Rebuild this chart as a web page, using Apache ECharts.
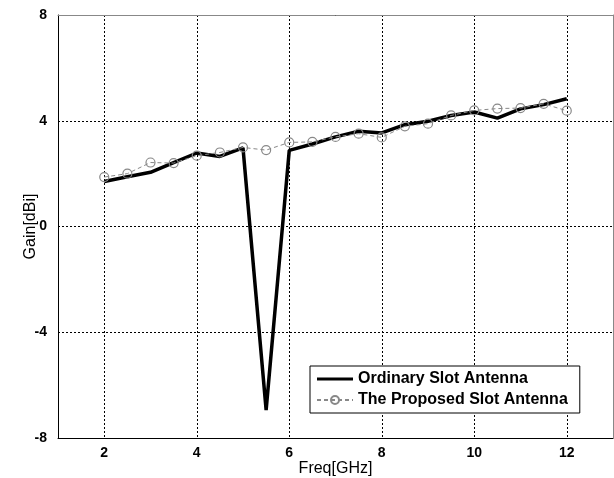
<!DOCTYPE html>
<html>
<head>
<meta charset="utf-8">
<script src="https://cdn.jsdelivr.net/npm/echarts@6/dist/echarts.min.js"></script>
<style>
  html, body { margin: 0; padding: 0; background: #fff; }
  #chart { width: 614px; height: 478px; }
</style>
</head>
<body>
<div id="chart"></div>
<script>
// Frequency points (GHz)
const freq = [2, 2.5, 3, 3.5, 4, 4.5, 5, 5.5, 6, 6.5, 7, 7.5, 8, 8.5, 9, 9.5, 10, 10.5, 11, 11.5, 12];
// Gain (dBi)
const ordinaryGain = [1.70, 1.88, 2.05, 2.42, 2.78, 2.65, 2.97, -6.94, 2.88, 3.12, 3.39, 3.60, 3.54, 3.85, 3.98, 4.20, 4.33, 4.10, 4.45, 4.61, 4.83];
const proposedGain = [1.87, 2.00, 2.42, 2.40, 2.68, 2.80, 2.99, 2.89, 3.18, 3.20, 3.39, 3.51, 3.37, 3.79, 3.89, 4.20, 4.39, 4.46, 4.48, 4.64, 4.38];
const xTicks = [2, 4, 6, 8, 10, 12];

const font = '"Liberation Sans", Arial, sans-serif';

const chart = echarts.init(document.getElementById('chart'));

const gridLine = { show: true, lineStyle: { color: '#000', width: 1, type: [2, 2] } };

chart.setOption({
  animation: false,
  backgroundColor: '#fff',
  grid: { left: 58, top: 15, right: 1, bottom: 40, outerBoundsMode: 'none' },
  xAxis: [
    {
      type: 'value',
      min: 1,
      max: 13,
      name: 'Freq[GHz]',
      nameLocation: 'middle',
      nameGap: 23,
      nameMoveOverlap: false,
      nameTextStyle: { fontFamily: font, fontSize: 16, color: '#000' },
      axisLine: { onZero: false, lineStyle: { color: '#000', width: 1 } },
      axisTick: { show: false, customValues: xTicks },
      axisLabel: {
        customValues: xTicks,
        margin: 8,
        fontFamily: font, fontSize: 14, fontWeight: 'bold', color: '#000'
      },
      splitLine: gridLine
    },
    {
      type: 'value', position: 'top', min: 1, max: 13,
      axisLine: { show: true, onZero: false, lineStyle: { color: '#888', width: 1 } },
      axisTick: { show: false }, axisLabel: { show: false }, splitLine: { show: false }
    }
  ],
  yAxis: [
    {
      type: 'value',
      min: -8,
      max: 8,
      interval: 4,
      name: 'Gain[dBi]',
      nameLocation: 'middle',
      nameGap: 19,
      nameMoveOverlap: false,
      nameTextStyle: { fontFamily: font, fontSize: 16, color: '#000' },
      axisLine: { show: true, onZero: false, lineStyle: { color: '#000', width: 1 } },
      axisTick: { show: false },
      axisLabel: { margin: 11, fontFamily: font, fontSize: 14, fontWeight: 'bold', color: '#000' },
      splitLine: gridLine
    },
    {
      type: 'value', position: 'right', min: -8, max: 8, interval: 4,
      axisLine: { show: true, onZero: false, lineStyle: { color: '#888', width: 1 } },
      axisTick: { show: false }, axisLabel: { show: false }, splitLine: { show: false }
    }
  ],
  legend: {
    orient: 'vertical',
    left: 310,
    top: 366,
    backgroundColor: '#fff',
    borderColor: '#000',
    borderWidth: 1,
    borderRadius: 0,
    padding: [5, 12, 5, 6],
    itemGap: 5,
    itemWidth: 36,
    itemHeight: 10,
    textStyle: { fontFamily: font, fontSize: 16, fontWeight: 'bold', color: '#000', lineHeight: 16, padding: [0, 0, 0, 0] },
    data: [
      { name: 'Ordinary Slot Antenna', icon: 'path://M0,0 L36,0 L36,3 L0,3 Z', itemStyle: { color: '#000' } },
      'The Proposed Slot Antenna'
    ]
  },
  series: [
    {
      name: 'Ordinary Slot Antenna',
      type: 'line',
      data: freq.map((f, i) => [f, ordinaryGain[i]]),
      symbol: 'none',
      lineStyle: { color: '#000', width: 3.5 },
      itemStyle: { color: '#000' },
      z: 2
    },
    {
      name: 'The Proposed Slot Antenna',
      type: 'line',
      data: freq.map((f, i) => [f, proposedGain[i]]),
      symbol: 'circle',
      symbolSize: 9,
      showSymbol: true,
      lineStyle: { color: '#888', width: 1, type: [4, 3] },
      itemStyle: { color: 'rgba(255,255,255,0)', borderColor: '#888', borderWidth: 1.2 },
      z: 3
    }
  ]
});
</script>
</body>
</html>
